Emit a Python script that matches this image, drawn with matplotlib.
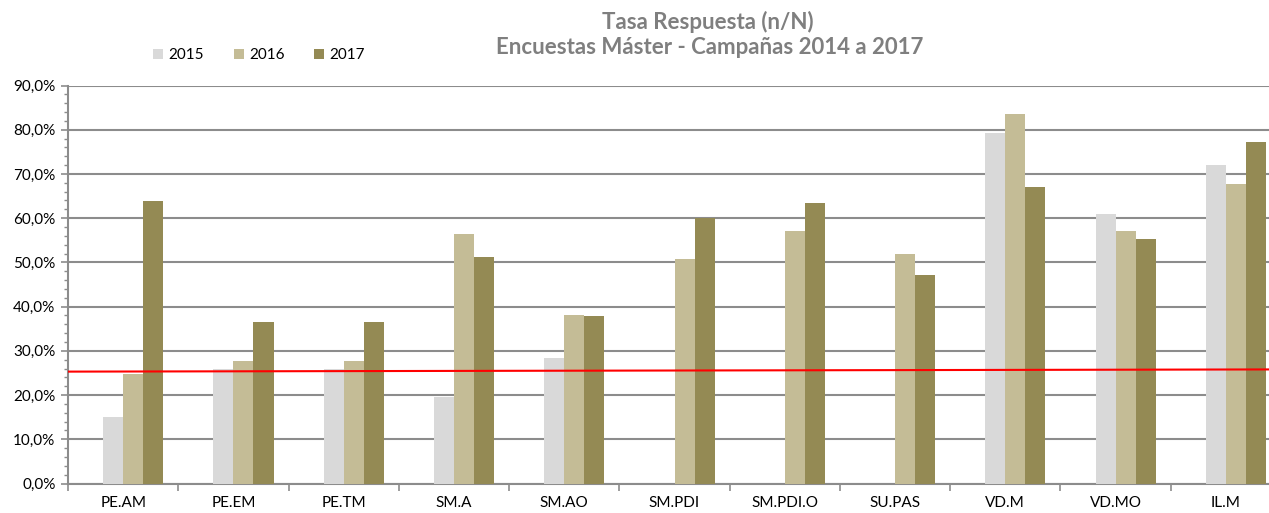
import numpy as np
import matplotlib
matplotlib.use("Agg")
import matplotlib.pyplot as plt
from matplotlib.ticker import FixedLocator, MultipleLocator, FuncFormatter

plt.rcParams['font.family'] = ['Lato', 'DejaVu Sans']

categories = ['PE.AM', 'PE.EM', 'PE.TM', 'SM.A', 'SM.AO', 'SM.PDI', 'SM.PDI.O',
              'SU.PAS', 'VD.M', 'VD.MO', 'IL.M']
years = ['2014', '2015', '2016', '2017']
v2014 = [np.nan] * 11  # 2014 series is empty, but keeps its slot
v2015 = [15.0, 25.8, 25.8, 19.6, 28.3, np.nan, np.nan, np.nan, 79.3, 61.0, 72.1]
v2016 = [24.8, 27.6, 27.6, 56.5, 38.0, 50.8, 57.2, 52.0, 83.5, 57.2, 67.7]
v2017 = [63.9, 36.5, 36.5, 51.2, 37.8, 60.0, 63.5, 47.1, 67.0, 55.2, 77.2]
ref_line = [25.3, 25.8]  # red reference line, left to right

colors = ['#b0b0b0', '#d9d9d9', '#c4bc96', '#948a54']

W, H = 1269, 513
fig = plt.figure(figsize=(W / 100, H / 100), dpi=100)
ax = fig.add_axes([68 / W, (H - 483.5) / H, (1281 - 68) / W, (483.5 - 85.5) / H])

x = np.arange(len(categories))
w = 0.182
series = [v2014, v2015, v2016, v2017]
for i, (vals, c, lab) in enumerate(zip(series, colors, years)):
    ax.bar(x + (i - 1.5) * w, vals, width=w, color=c,
           label=lab if i > 0 else '_nolegend_', zorder=3)

ax.plot([-0.5, len(categories) - 0.5], ref_line, color='#ff0000', lw=1.5, zorder=4)

ax.set_xlim(-0.5, len(categories) - 0.5)
ax.set_ylim(0, 90)
ax.yaxis.set_major_locator(MultipleLocator(10))
ax.yaxis.set_minor_locator(MultipleLocator(2))
ax.yaxis.set_major_formatter(FuncFormatter(lambda v, p: f"{v:.1f}%".replace('.', ',')))
ax.grid(axis='y', color='#8c8c8c', lw=1.5, zorder=0)

ax.xaxis.set_major_locator(FixedLocator(np.arange(-0.5, len(categories), 1.0)))
ax.xaxis.set_minor_locator(FixedLocator(x))
ax.set_xticklabels([])
ax.set_xticklabels(categories, minor=True)
ax.tick_params(axis='x', which='major', length=5, color='#8c8c8c', width=1.2)
ax.tick_params(axis='x', which='minor', length=0, pad=9, labelsize=11)
ax.tick_params(axis='y', which='major', length=5, color='#8c8c8c', width=1.2,
               labelsize=11, pad=4)
ax.tick_params(axis='y', which='minor', length=3, color='#8c8c8c', width=1)

for s in ['top', 'right']:
    ax.spines[s].set_visible(False)
for s in ['left', 'bottom']:
    ax.spines[s].set_color('#8c8c8c')
    ax.spines[s].set_linewidth(1.5)

fig.text(708 / W, 1 - 22 / H, 'Tasa Respuesta (n/N)', ha='center', va='center',
         fontsize=16, fontweight='bold', color='#7f7f7f')
fig.text(710 / W, 1 - 48 / H, 'Encuestas Máster - Campañas 2014 a 2017', ha='center',
         va='center', fontsize=16, fontweight='bold', color='#7f7f7f')

fig.legend(loc='center left', bbox_to_anchor=(153 / W, 1 - 55 / H), ncol=3,
           frameon=False, fontsize=11, handlelength=0.65, handleheight=0.65,
           columnspacing=1.95, handletextpad=0.35, borderpad=0, borderaxespad=0)

fig.savefig('out.png', dpi=100)
